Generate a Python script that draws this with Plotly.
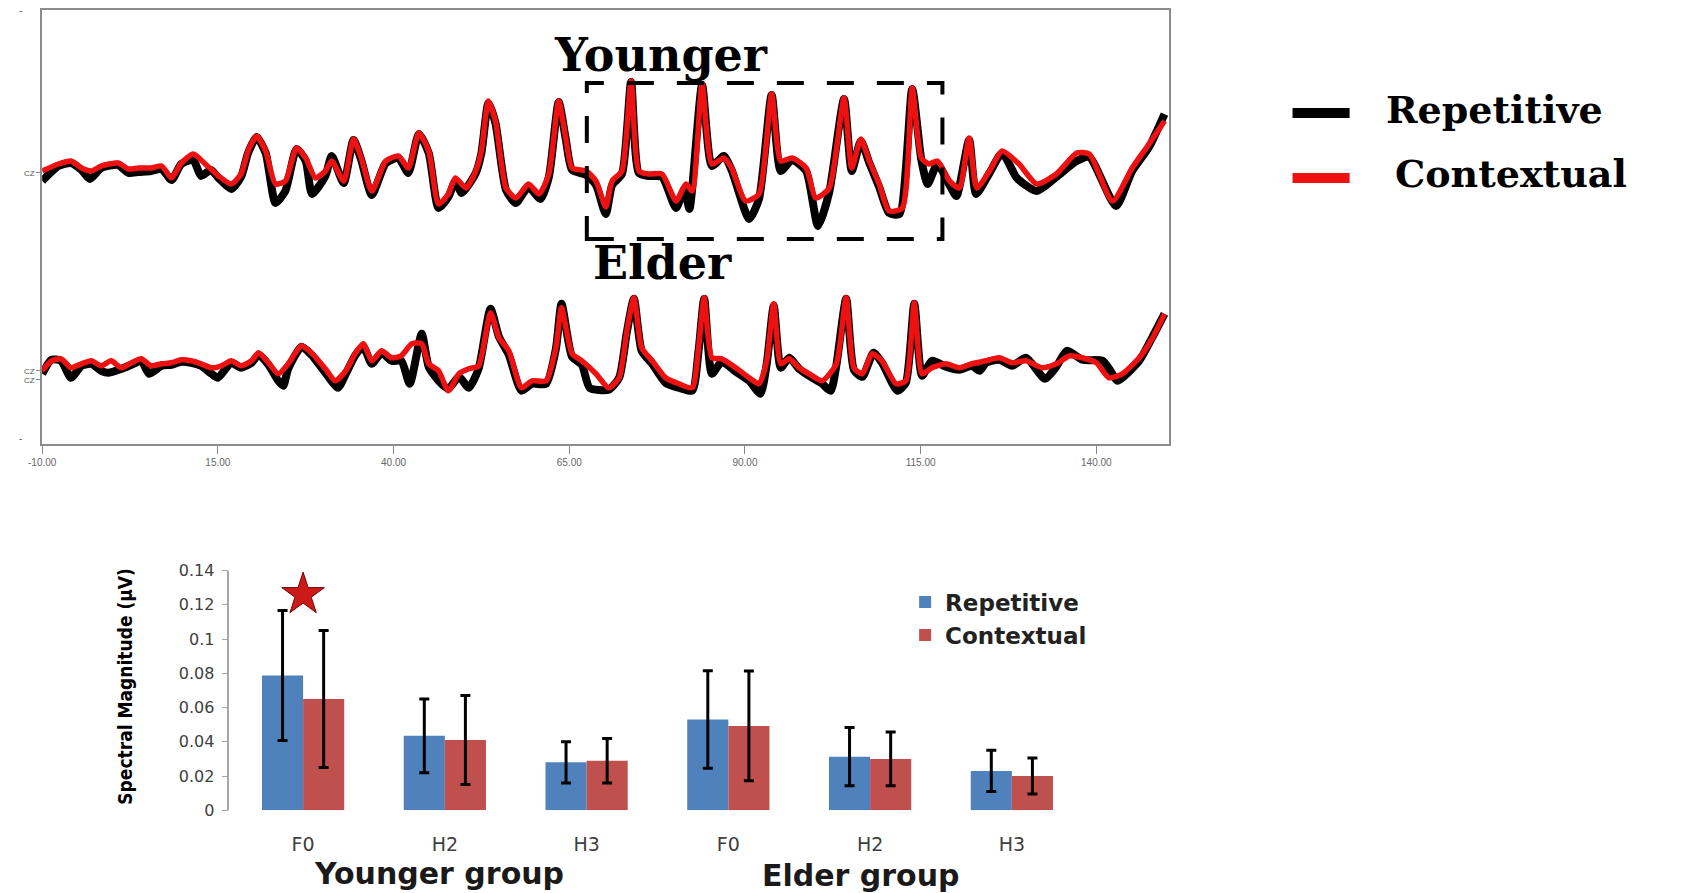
import plotly.graph_objects as go
import numpy as np

# Figure size and the page->figure mapping observed for this viewer (offset and slight downscale).
W, H = 1683, 903
SX, SY, OX, OY = 0.9906, 0.980, 16, 8

# ---------------- Top panel: waveforms (time in ms, amplitude in arbitrary µV units) ----------------
young_rep_t = [-10.0,-7.7,-5.9,-4.4,-3.2,-1.6,0.8,2.3,3.7,5.5,7.0,8.4,9.8,11.5,12.6,14.0,15.1,16.9,18.3,19.3,20.5,21.8,23.2,24.6,26.2,27.5,28.4,30.3,31.2,32.9,34.3,35.4,36.9,38.9,40.7,42.1,43.6,45.0,46.4,47.8,48.8,49.7,51.7,52.5,53.5,54.5,56.0,57.4,59.2,60.9,62.1,63.5,64.5,65.4,67.4,68.8,70.2,71.1,72.5,73.8,74.9,76.3,78.2,80.2,81.4,82.1,83.9,85.3,87.0,88.1,90.6,92.0,93.8,95.1,96.7,98.7,100.4,102.0,104.1,105.2,106.5,107.7,109.1,110.5,112.0,113.8,115.1,116.0,117.4,119.1,120.1,121.9,122.9,124.8,126.6,128.7,131.5,134.3,137.2,139.0,142.8,145.1,147.5,149.7]
young_rep_v = [-0.8,0.7,1.0,0.3,-0.6,0.5,0.8,0.0,0.1,0.2,0.4,-0.7,0.9,1.3,-0.3,0.3,-0.5,-1.6,-0.4,2.0,3.6,2.0,-3.0,-1.8,2.4,1.2,-2.1,-0.3,1.7,-1.0,3.3,1.3,-2.2,1.0,1.5,0.0,3.9,2.0,-3.5,-2.4,-0.8,-2.0,0.0,2.0,7.0,5.0,-1.7,-3.0,-1.4,-2.6,-0.4,7.1,3.4,0.3,-0.2,-1.2,-4.1,-1.2,-0.1,9.1,0.0,-0.3,-0.4,-3.5,-1.6,-3.6,8.8,0.7,1.7,0.3,-4.6,-2.6,7.8,0.2,1.3,0.2,-5.3,-1.9,7.4,0.2,3.2,1.0,-1.4,-4.0,-4.1,8.4,1.3,-1.1,0.9,-1.2,-2.3,3.3,-2.1,0.0,2.0,-0.5,-1.8,-0.4,1.2,1.6,-3.3,0.2,2.6,5.9]

young_ctx_t = [-10.0,-7.7,-5.9,-4.4,-3.0,-1.6,0.8,2.3,3.7,5.5,7.0,8.4,9.8,11.5,13.2,15.1,16.9,18.3,19.3,20.5,21.8,23.2,24.6,26.2,27.5,28.9,30.3,31.2,32.9,34.3,35.4,36.9,38.9,40.7,42.1,43.6,45.0,46.4,47.8,48.8,50.3,51.7,52.5,53.5,54.5,56.0,57.4,59.2,60.7,62.1,63.5,64.5,65.4,67.4,68.8,70.2,71.1,72.5,73.8,74.9,76.3,78.2,80.2,81.6,82.5,83.9,85.3,87.0,88.1,90.1,92.0,93.8,95.1,96.7,98.7,100.1,102.0,104.1,105.2,106.5,107.7,109.1,110.5,112.4,113.8,115.1,116.2,117.4,119.1,120.5,121.9,123.0,124.8,126.6,129.0,131.5,134.3,137.2,139.0,142.3,145.1,147.5,149.7]
young_ctx_v = [0.2,0.9,1.2,0.5,0.2,0.7,1.0,0.4,0.5,0.5,0.7,-0.5,1.0,1.9,0.9,-0.3,-1.1,-0.1,2.2,3.7,2.2,-1.1,-0.8,2.5,1.5,-0.5,0.2,1.2,-0.8,3.4,1.5,-1.8,1.2,1.7,0.5,4.0,2.2,-3.1,-2.1,-0.5,-1.5,0.2,2.2,7.2,5.2,-1.5,-2.5,-1.1,-2.1,-0.1,7.2,3.5,0.5,0.2,-0.8,-3.4,-0.8,0.2,9.2,0.2,-0.1,-0.1,-2.8,-1.1,-1.8,8.9,0.9,1.5,0.5,-2.8,-2.1,7.9,1.2,1.5,0.5,-2.5,-1.5,7.5,0.5,3.4,1.2,-1.1,-3.8,-3.5,8.5,1.5,0.9,1.2,-0.8,-1.5,3.5,-1.5,0.2,2.2,0.9,-1.1,-0.1,2.0,1.9,-2.8,0.5,2.9,5.2]

elder_rep_t = [-10.0,-8.7,-7.3,-5.9,-4.4,-3.0,-1.6,-0.6,1.3,2.7,4.1,5.2,7.0,8.4,9.8,11.2,12.6,14.1,15.0,16.9,18.3,19.8,20.8,22.2,23.6,24.3,25.0,26.9,28.3,30.3,32.1,33.2,34.6,35.7,36.9,38.3,39.7,41.1,42.3,44.0,45.0,46.4,47.8,49.3,50.7,52.1,53.8,55.0,56.4,58.2,59.7,61.7,63.1,63.9,65.4,66.8,67.9,70.6,72.1,73.2,74.2,75.3,76.8,78.7,80.6,82.5,83.4,84.2,85.3,86.7,88.7,90.6,92.2,93.1,94.1,95.1,96.3,97.7,99.1,101.0,102.2,103.0,104.4,105.5,106.7,108.3,109.5,111.7,112.9,114.1,115.2,116.6,118.6,120.5,122.3,123.4,124.3,126.2,128.0,130.0,132.7,134.3,135.8,138.0,140.9,142.0,143.0,146.1,148.0,149.7]
elder_rep_v = [-0.5,0.9,0.8,-0.9,0.3,0.5,-0.2,-0.4,0.0,0.4,0.8,-0.5,0.3,0.4,0.7,0.6,0.3,-0.5,-0.9,0.6,0.1,0.6,1.4,0.4,-1.2,-1.7,0.0,2.2,1.4,-0.4,-1.9,-0.5,1.4,2.2,0.5,1.6,0.8,0.8,-1.5,3.5,0.2,-1.2,-2.0,-0.8,-1.9,0.0,6.0,3.2,1.4,-2.2,-1.5,-1.5,2.0,6.5,1.2,0.4,-1.9,-2.1,-0.9,3.7,7.0,1.8,0.5,-1.4,-1.9,-2.2,1.8,7.0,-0.5,0.7,-0.3,-1.2,-2.5,0.5,6.3,0.1,1.1,0.0,-0.7,-1.5,-2.2,0.3,7.0,-0.1,-0.8,1.6,0.6,-2.2,-1.4,6.5,-0.7,0.8,0.2,-0.1,0.3,-0.2,0.6,0.9,0.3,1.1,-1.0,0.2,1.8,0.9,0.8,-0.2,-1.2,0.8,3.2,5.5]

elder_ctx_t = [-10.0,-8.7,-7.3,-5.9,-4.4,-3.0,-1.6,-0.2,1.3,2.7,4.1,5.5,7.0,8.4,9.8,11.2,12.6,14.1,15.5,16.9,18.3,19.8,20.8,22.2,23.6,25.0,26.9,28.3,30.3,31.7,33.2,34.6,35.7,36.9,38.3,39.7,41.1,42.6,44.0,45.0,46.4,47.8,49.3,50.7,52.1,53.8,55.0,56.4,58.2,59.7,61.7,63.1,63.9,65.4,66.8,68.8,70.6,72.1,73.2,74.2,75.3,76.8,78.7,80.6,82.5,83.4,84.2,85.3,86.7,88.7,90.6,92.0,93.1,94.1,95.1,96.3,97.7,99.1,101.0,103.0,104.4,105.5,106.7,108.1,109.5,111.5,112.9,114.1,115.2,116.6,118.6,120.5,122.3,124.3,126.2,128.0,130.0,132.3,134.3,136.2,138.0,140.0,141.8,143.7,146.1,148.0,149.7]
elder_ctx_v = [-0.2,0.8,1.0,0.1,0.5,0.8,0.3,0.8,0.1,0.6,1.0,0.3,0.5,0.6,0.9,0.8,0.5,0.1,0.3,0.8,0.3,0.8,1.6,0.6,-0.5,0.5,2.3,1.6,0.0,-1.2,-0.2,1.6,2.5,0.8,1.8,1.1,1.3,2.5,2.5,0.5,-0.2,-2.2,-0.5,0.0,0.3,5.6,3.1,1.8,-1.9,-1.2,-1.2,2.1,6.1,1.5,0.8,-0.5,-1.9,-0.9,3.8,7.1,2.1,0.8,-0.9,-1.5,-1.9,2.1,7.1,1.1,1.0,0.1,-0.9,-1.5,0.8,6.5,0.5,1.0,0.1,-0.5,-1.2,0.5,7.1,0.1,-0.5,1.5,0.8,-1.5,-1.2,6.6,-0.5,0.1,0.5,0.1,0.5,0.8,1.1,0.6,0.8,0.1,0.5,1.3,1.1,0.6,-0.9,-0.5,1.1,3.1,5.5]

time_ticks = [-10, 15, 40, 65, 90, 115, 140]
time_tick_text = ["-10.00", "15.00", "40.00", "65.00", "90.00", "115.00", "140.00"]
window_ms = [67.5, 118.1]          # dashed analysis window
young_offset, elder_offset = 27.1, 7.5

# ---------------- Bottom panel: spectral magnitude ----------------
harmonics = ["F0", "H2", "H3", "F0", "H2", "H3"]
group_names = ["Younger group", "Elder group"]
rep_mean = [0.0787, 0.0435, 0.028, 0.053, 0.0313, 0.023]
rep_sd   = [0.038, 0.0215, 0.012, 0.0285, 0.017, 0.012]
ctx_mean = [0.065, 0.041, 0.029, 0.0493, 0.030, 0.020]
ctx_sd   = [0.040, 0.026, 0.013, 0.032, 0.0157, 0.0105]
y_ticks = [0, 0.02, 0.04, 0.06, 0.08, 0.1, 0.12, 0.14]
y_tick_text = ["0", "0.02", "0.04", "0.06", "0.08", "0.1", "0.12", "0.14"]
sig_index, sig_level = 0, 0.126

BLUE, RED = "#4f81bd", "#c0504d"


def px(x):
    """target picture pixel -> paper fraction"""
    return (x / SX - OX) / W


def py(y):
    return 1 - (y / SY - OY) / H


fig = go.Figure()

for t, v, off, col, wd in [
    (young_rep_t, young_rep_v, young_offset, "black", 8),
    (elder_rep_t, elder_rep_v, elder_offset, "black", 8),
    (young_ctx_t, young_ctx_v, young_offset, "#ee1111", 5.5),
    (elder_ctx_t, elder_ctx_v, elder_offset, "#ee1111", 5.5),
]:
    fig.add_trace(go.Scatter(
        x=t, y=np.array(v) + off, mode="lines",
        line=dict(color=col, width=wd, shape="spline", smoothing=0.6),
        showlegend=False, hoverinfo="skip", xaxis="x", yaxis="y"))

xs = list(range(len(harmonics)))
fig.add_trace(go.Bar(
    x=xs, y=rep_mean, name="Repetitive", marker=dict(color=BLUE, line=dict(width=0)),
    error_y=dict(type="data", array=rep_sd, color="black", thickness=3, width=5),
    xaxis="x2", yaxis="y2"))
fig.add_trace(go.Bar(
    x=xs, y=ctx_mean, name="Contextual", marker=dict(color=RED, line=dict(width=0)),
    error_y=dict(type="data", array=ctx_sd, color="black", thickness=3, width=5),
    xaxis="x2", yaxis="y2"))
fig.add_trace(go.Scatter(
    x=[sig_index], y=[sig_level], mode="markers",
    marker=dict(symbol="star", size=32, color="#cc1a1a", line=dict(color="#7a0000", width=1)),
    showlegend=False, hoverinfo="skip", xaxis="x2", yaxis="y2"))

shapes = [
    dict(type="rect", xref="x", yref="y", x0=window_ms[0], x1=window_ms[1],
         y0=young_offset - 6.6, y1=young_offset + 9.0,
         line=dict(color="black", width=4, dash="27px,23px")),
    dict(type="line", xref="paper", yref="paper", x0=px(1293), x1=px(1350), y0=py(112), y1=py(112),
         line=dict(color="black", width=10)),
    dict(type="line", xref="paper", yref="paper", x0=px(1293), x1=px(1350), y0=py(177), y1=py(177),
         line=dict(color="#ee1111", width=10)),
]

serif = "DejaVu Serif, Liberation Serif, serif"


def ann(text, x, y, font, xanchor="center", yanchor="middle", **kw):
    return dict(text=text, x=px(x), y=py(y), xref="paper", yref="paper", showarrow=False,
                xanchor=xanchor, yanchor=yanchor, font=font, **kw)


annotations = [
    ann("Younger", 662, 54, dict(family=serif, size=46, color="black", weight="bold")),
    ann("Elder", 664, 262, dict(family=serif, size=46, color="black", weight="bold")),
    ann("Repetitive", 1384, 108, dict(family=serif, size=38, color="black", weight="bold"), xanchor="left"),
    ann("Contextual", 1393, 173, dict(family=serif, size=38, color="black", weight="bold"), xanchor="left"),
    ann("-", 22, 9, dict(family="Liberation Sans", size=10, color="#555")),
    ann("-", 22, 438, dict(family="Liberation Sans", size=10, color="#555")),
    ann("Spectral Magnitude (µV)", 127, 686,
        dict(family="Liberation Sans Narrow, DejaVu Sans Condensed, Arial Narrow, sans-serif",
             size=19, color="black", weight="bold"), textangle=-90),
    ann(group_names[0], 440, 873, dict(family="DejaVu Sans", size=30, color="#1a1a1a", weight="bold")),
    ann(group_names[1], 862, 875, dict(family="DejaVu Sans", size=30, color="#1a1a1a", weight="bold")),
]

fig.update_layout(
    width=W, height=H, margin=dict(l=0, r=0, t=0, b=0),
    paper_bgcolor="white", plot_bgcolor="white",
    barmode="group", bargap=0.42, bargroupgap=0,
    shapes=shapes, annotations=annotations,
    xaxis=dict(domain=[px(44), px(1170)], range=[-10, 150.4], anchor="y",
               tickvals=time_ticks, ticktext=time_tick_text, ticks="outside", ticklen=8, tickcolor="#888",
               tickfont=dict(family="Liberation Sans", size=10, color="#666"),
               showline=True, linecolor="#8c8c8c", linewidth=2, mirror=True,
               showgrid=False, zeroline=False),
    yaxis=dict(domain=[py(443), py(9)], range=[0, 43.4], anchor="x",
               tickvals=[young_offset, elder_offset - 0.2, elder_offset - 1.1],
               ticktext=["CZ", "CZ", "CZ"], ticks="outside", ticklen=4, tickcolor="#888",
               tickfont=dict(family="Liberation Sans", size=8, color="#555"),
               showline=True, linecolor="#8c8c8c", linewidth=2, mirror=True,
               showgrid=False, zeroline=False),
    xaxis2=dict(domain=[px(231), px(1090.5)], range=[-0.52, 5.55], anchor="y2",
                tickvals=xs, ticktext=harmonics, ticks="", ticklabelstandoff=21,
                tickfont=dict(family="DejaVu Sans", size=19, color="#404040"),
                showline=False, showgrid=False, zeroline=False),
    yaxis2=dict(domain=[py(810), py(570)], range=[0, 0.14], anchor="x2",
                tickvals=y_ticks, ticktext=y_tick_text, ticks="outside", ticklen=6,
                ticklabelstandoff=4,
                tickcolor="#a6a6a6", tickfont=dict(family="DejaVu Sans", size=16, color="#404040"),
                showline=True, linecolor="#a6a6a6", linewidth=1.5,
                showgrid=False, zeroline=False),
    legend=dict(x=px(906), y=py(580), xanchor="left", yanchor="top",
                font=dict(family="DejaVu Sans", size=23, color="#222", weight="bold"),
                bgcolor="rgba(0,0,0,0)", tracegroupgap=0, itemwidth=30),
)

fig.write_html("out.html")
